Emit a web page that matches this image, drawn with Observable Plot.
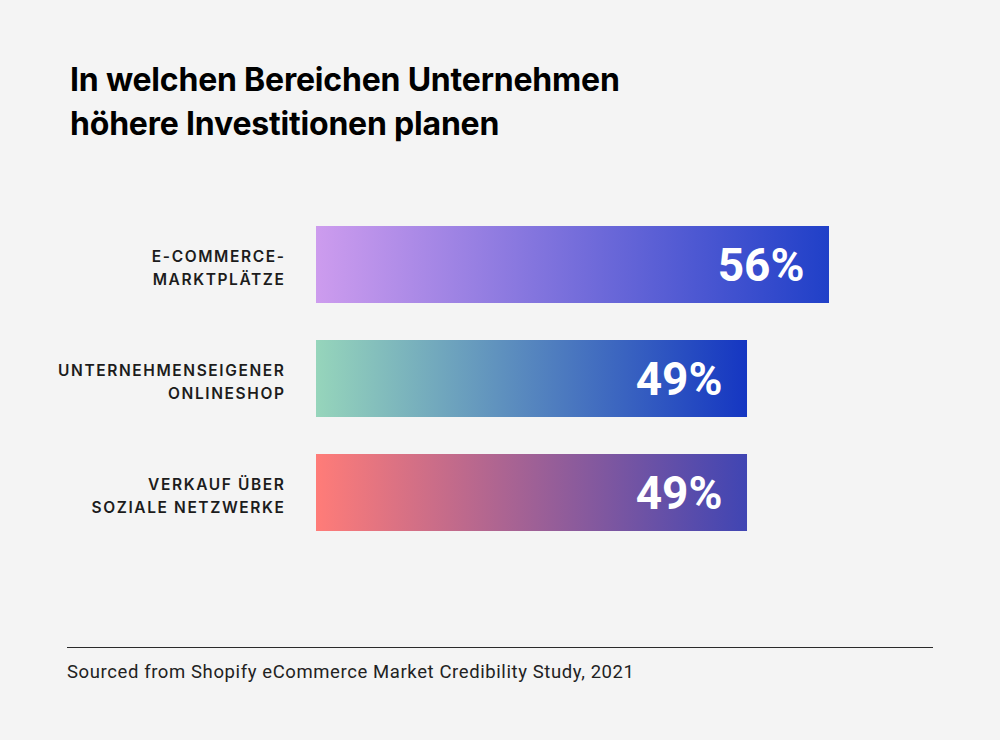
<!DOCTYPE html>
<html>
<head>
<meta charset="utf-8">
<script src="https://cdn.jsdelivr.net/npm/d3@7"></script>
<script src="https://cdn.jsdelivr.net/npm/@observablehq/plot@0.6"></script>
<style>
  html, body { margin: 0; padding: 0; background: #f4f4f4; }
  #page { position: relative; width: 1000px; height: 740px; background: #f4f4f4; overflow: hidden; }
  #title { position: absolute; left: 70px; top: 58px; font-family: Inter, sans-serif; font-weight: 700; font-size: 32px; line-height: 44px; color: #000; letter-spacing: -0.2px; }
  #chart { position: absolute; left: 0; top: 180px; }
  #rule { position: absolute; left: 67px; top: 647px; width: 866px; height: 0; border-top: 1.3px solid #2a2a2a; }
  #caption { position: absolute; left: 67px; top: 661px; font-family: Roboto, sans-serif; font-size: 18.5px; letter-spacing: 0.6px; color: #222; }
</style>
</head>
<body>
<div id="page">
  <div id="title">In welchen Bereichen Unternehmen<br>höhere Investitionen planen</div>
  <div id="chart"></div>
  <div id="rule"></div>
  <div id="caption">Sourced from Shopify eCommerce Market Credibility Study, 2021</div>
</div>
<script>
const categories = ["E-COMMERCE-\nMARKTPLÄTZE", "UNTERNEHMENSEIGENER\nONLINESHOP", "VERKAUF ÜBER\nSOZIALE NETZWERKE"];
const values = [56, 49, 49];
const valueLabels = ["56%", "49%", "49%"];
const gradientStart = ["#cd9cee", "#96d5bb", "#ff7c78"];
const gradientEnd = ["#2040c8", "#1536c2", "#4045b3"];

const data = categories.map((c, i) => ({
  category: c, value: values[i], label: valueLabels[i], grad: `url(#grad${i})`
}));

const defs = () => {
  const d = d3.create("svg:defs");
  data.forEach((_, i) => {
    const g = d.append("linearGradient").attr("id", `grad${i}`).attr("x1", "0").attr("x2", "1").attr("y1", "0").attr("y2", "0");
    g.append("stop").attr("offset", "0%").attr("stop-color", gradientStart[i]);
    g.append("stop").attr("offset", "100%").attr("stop-color", gradientEnd[i]);
  });
  return d.node();
};

const xMin = 12.2;
const chart = Plot.plot({
  width: 1000,
  height: 400,
  marginLeft: 316,
  marginRight: 171,
  marginTop: 46,
  marginBottom: 49,
  style: { background: "transparent", overflow: "visible" },
  x: { domain: [xMin, 56], axis: null },
  y: { domain: categories, axis: null, paddingInner: 0.3246, paddingOuter: 0 },
  color: { type: "identity" },
  marks: [
    defs,
    Plot.barX(data, { x1: xMin, x2: "value", y: "category", fill: "grad" }),
    Plot.text(data, {
      x: "value", y: "category", text: "label", textAnchor: "end", dx: -25, dy: 1,
      fill: "white", fontSize: 46, fontWeight: 700, fontFamily: "Roboto, sans-serif"
    }),
    Plot.text(data, {
      x: xMin, y: "category", text: "category", textAnchor: "end", dx: -31, dy: 1,
      lineHeight: 1.5, fill: "#1c1c1c", fontSize: 15.5, fontWeight: 600, fontFamily: "Inter, sans-serif"
    })
  ]
});
const textGroups = chart.querySelectorAll('g[aria-label="text"]');
if (textGroups.length) textGroups[textGroups.length - 1].setAttribute("letter-spacing", "1.6");
document.getElementById("chart").appendChild(chart);
</script>
</body>
</html>
